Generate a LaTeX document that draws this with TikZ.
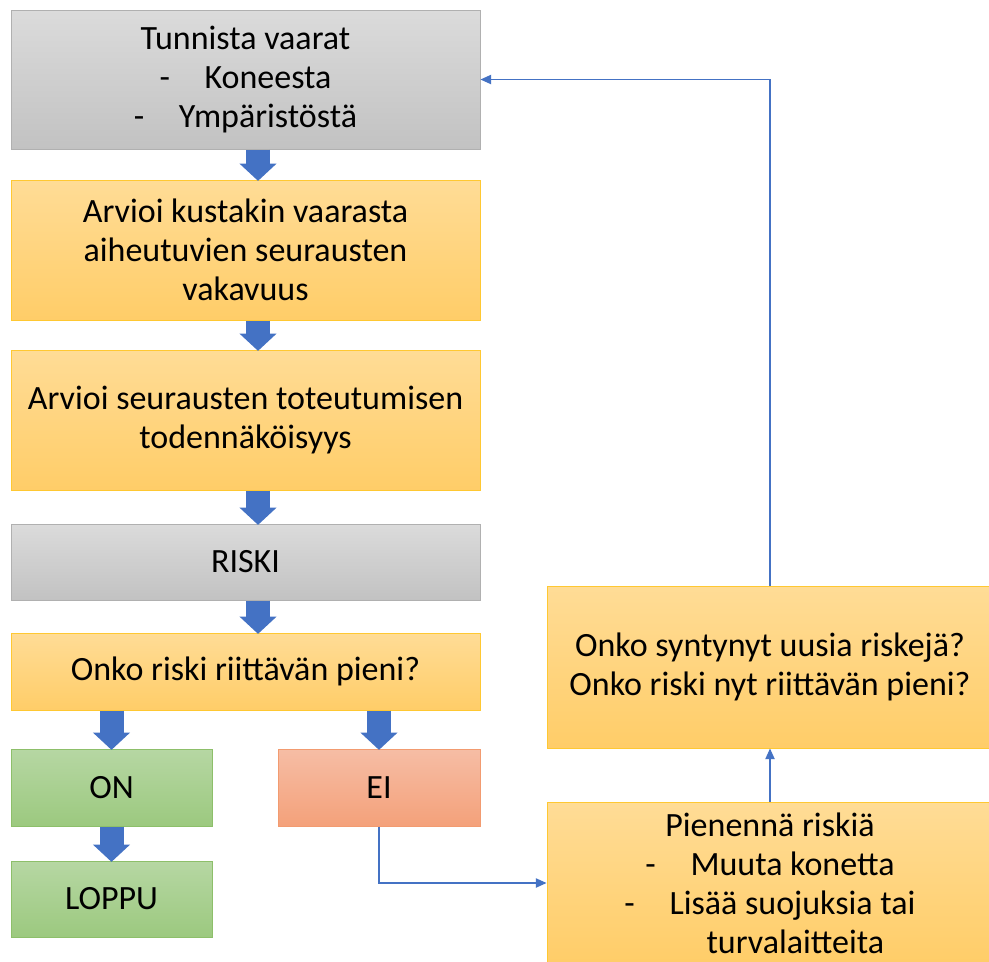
\documentclass[tikz,border=0pt]{standalone}
\usepackage{fontspec}
\setmainfont{Carlito}
\usetikzlibrary{arrows.meta}
\definecolor{grtop}{HTML}{DBDBDB}
\definecolor{grbot}{HTML}{C2C2C2}
\definecolor{grline}{HTML}{B0B0B0}
\definecolor{yetop}{HTML}{FFDC96}
\definecolor{yebot}{HTML}{FFCD68}
\definecolor{yeline}{HTML}{FFC832}
\definecolor{gntop}{HTML}{B6D7A3}
\definecolor{gnbot}{HTML}{9CC97F}
\definecolor{gnline}{HTML}{8DBF6A}
\definecolor{ortop}{HTML}{F6BDA5}
\definecolor{orbot}{HTML}{F4A17A}
\definecolor{orline}{HTML}{F29B70}
\definecolor{arrblue}{HTML}{4472C4}
\newcommand\pxu{0.75pt}
\tikzset{
  box/.style={line width=0.75pt, inner sep=0pt, align=center, text=black,
    font=\fontsize{25.5}{29.3}\selectfont},
  graybox/.style={box, draw=grline, top color=grtop, bottom color=grbot},
  yellowbox/.style={box, draw=yeline, top color=yetop, bottom color=yebot},
  greenbox/.style={box, draw=gnline, top color=gntop, bottom color=gnbot},
  orangebox/.style={box, draw=orline, top color=ortop, bottom color=orbot},
  bigarrow/.style={draw=arrblue, line width=18pt,
    -{Triangle[length=13pt,width=28pt,line width=0pt]}, shorten >=-1pt},
  thinarrow/.style={draw=arrblue, line width=0.9pt,
    -{Triangle[length=8pt,width=7pt]}},
}
\begin{document}
\begin{tikzpicture}[x=0.75pt,y=-0.75pt]
\useasboundingbox (0,0) rectangle (989,961);
\clip (0,0) rectangle (989,961);
\fill[white] (0,0) rectangle (989,961);

\node[graybox, minimum width=469*\pxu, minimum height=139*\pxu] (haz) at (245.5,79.5)
  {Tunnista vaarat\\ -\hspace{26pt}Koneesta\\ -\hspace{26pt}Ympäristöstä};
\node[yellowbox, minimum width=469*\pxu, minimum height=140*\pxu] (sev) at (245.5,250)
  {Arvioi kustakin vaarasta\\ aiheutuvien seurausten\\ vakavuus};
\node[yellowbox, minimum width=469*\pxu, minimum height=140*\pxu] (prob) at (245.5,420)
  {Arvioi seurausten toteutumisen\\ todennäköisyys};
\node[graybox, minimum width=469*\pxu, minimum height=76*\pxu] (risk) at (245.5,562)
  {RISKI};
\node[yellowbox, minimum width=469*\pxu, minimum height=77*\pxu] (q) at (245.5,671.5)
  {Onko riski riittävän pieni?};
\node[greenbox, minimum width=201*\pxu, minimum height=77*\pxu] (on) at (111.5,787.5)
  {ON};
\node[greenbox, minimum width=201*\pxu, minimum height=76*\pxu] (end) at (111.5,899)
  {LOPPU};
\node[orangebox, minimum width=202*\pxu, minimum height=77*\pxu] (ei) at (379,787.5)
  {EI};
\node[yellowbox, minimum width=446*\pxu, minimum height=162*\pxu] (chk) at (770,667)
  {Onko syntynyt uusia riskejä?\\ Onko riski nyt riittävän pieni?};
\node[yellowbox, minimum width=446*\pxu, minimum height=162*\pxu] (red) at (770,883)
  {Pienennä riskiä\\ -\hspace{26pt}Muuta konetta\\ -\hspace{26pt}Lisää suojuksia tai\\ \hspace*{38pt}turvalaitteita};

\draw[bigarrow] ([xshift=9.4pt]haz.south) -- ([xshift=9.4pt]sev.north);
\draw[bigarrow] ([xshift=9.4pt]sev.south) -- ([xshift=9.4pt]prob.north);
\draw[bigarrow] ([xshift=9.4pt]prob.south) -- ([xshift=9.4pt]risk.north);
\draw[bigarrow] ([xshift=9.4pt]risk.south) -- ([xshift=9.4pt]q.north);
\draw[bigarrow] (q.south -| on.north) -- (on.north);
\draw[bigarrow] (q.south -| ei.north) -- (ei.north);
\draw[bigarrow] (on.south) -- (end.north);

\draw[thinarrow] (ei.south) |- (red.west);
\draw[thinarrow] (red.north) -- (chk.south);
\draw[thinarrow] (chk.north) |- (haz.east);
\end{tikzpicture}
\end{document}
